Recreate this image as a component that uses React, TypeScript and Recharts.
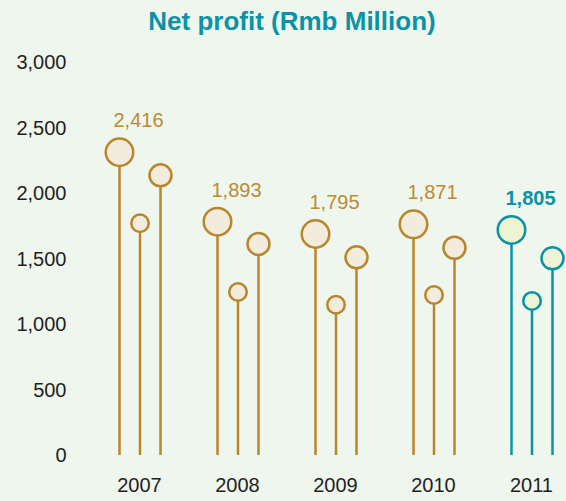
import React from "react";
import { BarChart, Bar, XAxis, YAxis, LabelList } from "recharts";

// data
const years = ["2007", "2008", "2009", "2010", "2011"];
const netProfit = [2416, 1893, 1795, 1871, 1805];
const seriesA = [2311, 1781, 1687, 1761, 1718];
const seriesB = [1769, 1244, 1147, 1221, 1176];
const seriesC = [2135, 1611, 1509, 1582, 1502];
const yTicks = [0, 500, 1000, 1500, 2000, 2500, 3000];
const highlightYear = "2011";

const colors = {
  bg: "#eff6ee",
  gold: "#b8862c",
  goldFill: "#f3ecdc",
  goldText: "#bb8a34",
  teal: "#0a93a5",
  tealFill: "#eef3d4",
  text: "#231f20",
};

const FONT = "'Liberation Sans', Arial, Helvetica, sans-serif";

const data = years.map((year, i) => ({
  year,
  label: netProfit[i],
  a: seriesA[i],
  b: seriesB[i],
  c: seriesC[i],
}));

const fmt = (v: number) => v.toLocaleString("en-US");

const lollipop = (r: number) => (props: any) => {
  const { x, y, width, height, payload } = props;
  const cx = x + width / 2;
  const hi = payload?.year === highlightYear;
  const stroke = hi ? colors.teal : colors.gold;
  return (
    <g>
      <line x1={cx} x2={cx} y1={y} y2={y + height} stroke={stroke} strokeWidth={2.5} />
      <circle cx={cx} cy={y} r={r} fill={hi ? colors.tealFill : colors.goldFill} stroke={stroke} strokeWidth={2.5} />
    </g>
  );
};

const TopLabel = (props: any) => {
  const { x, y, width, value, index } = props;
  const hi = years[index] === highlightYear;
  return (
    <text
      x={x + width / 2 + 19}
      y={y - 25}
      textAnchor="middle"
      fontFamily={FONT}
      fontSize={20}
      fontWeight={hi ? 700 : 400}
      fill={hi ? colors.teal : colors.goldText}
    >
      {fmt(value)}
    </text>
  );
};

export default function App() {
  return (
    <div
      style={{
        position: "absolute",
        left: 0,
        top: 0,
        width: 566,
        height: 501,
        background: colors.bg,
        overflow: "hidden",
        fontFamily: FONT,
      }}
    >
      <div
        style={{
          position: "absolute",
          left: 0,
          width: 584,
          top: 6,
          textAlign: "center",
          fontSize: 26,
          fontWeight: 700,
          color: colors.teal,
        }}
      >
        Net profit (Rmb Million)
      </div>
      <BarChart
        width={566}
        height={501}
        data={data}
        margin={{ top: 62, right: -14.5, bottom: 0, left: 0 }}
        barSize={20}
        barGap={0.5}
      >
        <YAxis
          type="number"
          domain={[0, 3000]}
          ticks={yTicks}
          width={90.5}
          axisLine={false}
          tickLine={false}
          tickSize={6}
          tickMargin={18}
          tickFormatter={fmt}
          tick={{ fill: colors.text, fontSize: 20, fontFamily: FONT }}
        />
        <XAxis
          dataKey="year"
          height={46}
          axisLine={false}
          tickLine={false}
          tickSize={6}
          tickMargin={17}
          tick={{ fill: colors.text, fontSize: 20, fontFamily: FONT }}
        />
        <Bar dataKey="a" shape={lollipop(13.75)} isAnimationActive={false}>
          <LabelList dataKey="label" content={<TopLabel />} />
        </Bar>
        <Bar dataKey="b" shape={lollipop(8.75)} isAnimationActive={false} />
        <Bar dataKey="c" shape={lollipop(11)} isAnimationActive={false} />
      </BarChart>
    </div>
  );
}
